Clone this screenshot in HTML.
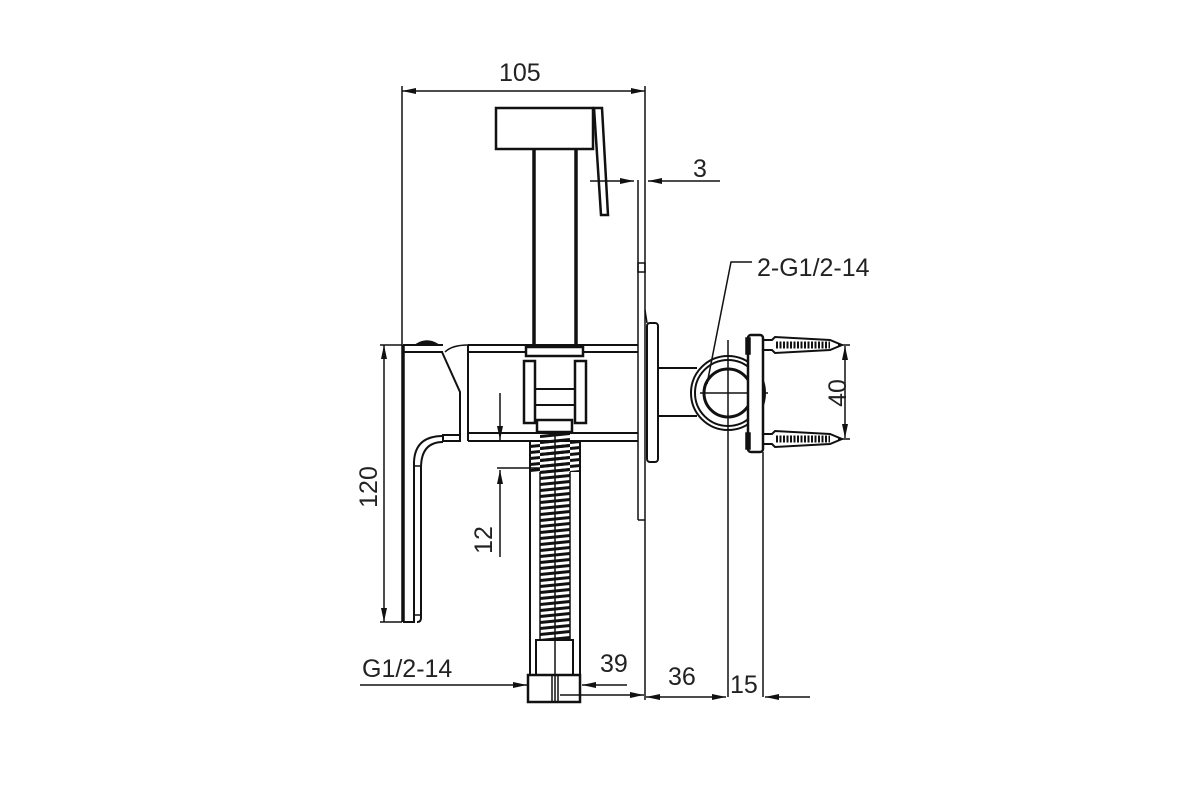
<!DOCTYPE html>
<html><head><meta charset="utf-8"><style>
html,body{margin:0;padding:0;background:#fff;}
svg{display:block;}
text{font-family:"Liberation Sans",Arial,sans-serif;font-size:25px;fill:#222;}
</style></head><body>
<svg width="1200" height="800" viewBox="0 0 1200 800" xmlns="http://www.w3.org/2000/svg">
<defs>
<marker id="a" viewBox="0 0 14 6" refX="14" refY="3" markerWidth="14" markerHeight="6" markerUnits="userSpaceOnUse" orient="auto-start-reverse"><path d="M0,0 L14,3 L0,6 Z" fill="#111"/></marker>
<pattern id="sp" width="30" height="6" patternUnits="userSpaceOnUse"><path d="M0,4.5 L30,1.5" stroke="#111" stroke-width="3"/></pattern>
</defs>
<g fill="none" stroke="#111" stroke-width="1.5">
<line x1="402" y1="91" x2="645" y2="91" marker-start="url(#a)" marker-end="url(#a)"/>
<line x1="402" y1="86" x2="402" y2="345"/>
<line x1="645" y1="86" x2="645" y2="700"/>
<rect x="496" y="108" width="97" height="41" stroke-width="2.5"/>
<path d="M594,108 L602,108 L608,215 L601,215 Z" stroke-width="2.5"/>
<line x1="534" y1="149" x2="534" y2="345" stroke-width="3.5"/>
<line x1="576" y1="149" x2="576" y2="345" stroke-width="3.5"/>
<line x1="590" y1="181" x2="634" y2="181" marker-end="url(#a)"/>
<line x1="720" y1="181" x2="648" y2="181" marker-end="url(#a)"/>
<line x1="638" y1="180" x2="638" y2="520"/>
<rect x="638" y="263" width="7" height="9"/>
<line x1="638" y1="520" x2="645" y2="520"/>
<rect x="647" y="323" width="11" height="139" rx="3" stroke-width="2"/>
<line x1="645" y1="310" x2="647" y2="323"/>
<line x1="468" y1="345" x2="638" y2="345" stroke-width="2"/>
<line x1="468" y1="352" x2="638" y2="352" stroke-width="2"/>
<line x1="468" y1="433" x2="638" y2="433" stroke-width="2"/>
<line x1="468" y1="441" x2="638" y2="441" stroke-width="2"/>
<line x1="468" y1="345" x2="468" y2="441" stroke-width="2"/>
<rect x="526" y="347" width="57" height="9" stroke-width="2.5" fill="#fff"/>
<rect x="524" y="361" width="11" height="62" stroke-width="2.5"/>
<rect x="575" y="361" width="11" height="62" stroke-width="2.5"/>
<line x1="535" y1="389" x2="575" y2="389" stroke-width="2"/>
<line x1="535" y1="405" x2="575" y2="405" stroke-width="2"/>
<rect x="537" y="420" width="35" height="12" stroke-width="2.5"/>
<line x1="403" y1="345" x2="403" y2="622" stroke-width="3.5"/>
<line x1="403" y1="345" x2="443" y2="345" stroke-width="2"/>
<line x1="403" y1="352" x2="443" y2="352" stroke-width="2"/>
<path d="M417,344 Q427,338 437,344 Z" fill="#111"/>
<path d="M442,352 L460,392 L460,441 L443,441 L443,435 L460,435" stroke-width="2"/>
<path d="M445,352 Q452,345 468,345"/>
<path d="M443,436 Q415,436 414,462 L414,622 L403,622" stroke-width="2"/>
<path d="M443,442 Q421,442 421,468 L421,618 Q421,622 417,622" stroke-width="2"/>
<line x1="414" y1="466" x2="421" y2="466"/>
<line x1="414" y1="615" x2="421" y2="615"/>
<line x1="384" y1="345" x2="384" y2="622" marker-start="url(#a)" marker-end="url(#a)"/>
<line x1="380" y1="345" x2="402" y2="345"/>
<line x1="380" y1="622" x2="402" y2="622"/>
<rect x="530" y="442" width="50" height="30" fill="url(#sp)" stroke="none"/>
<rect x="540" y="432" width="30" height="208" fill="url(#sp)" stroke="none"/>
<line x1="555" y1="432" x2="555" y2="702"/>
<line x1="530" y1="442" x2="530" y2="675" stroke-width="2"/>
<line x1="580" y1="442" x2="580" y2="675" stroke-width="2"/>
<line x1="540" y1="472" x2="540" y2="640"/>
<line x1="570" y1="472" x2="570" y2="640"/>
<rect x="536" y="640" width="37" height="35" stroke-width="2"/>
<rect x="528" y="675" width="52" height="27" stroke-width="2.5"/>
<line x1="552" y1="675" x2="552" y2="702"/>
<line x1="558" y1="675" x2="558" y2="702"/>
<line x1="500" y1="393" x2="500" y2="440" marker-end="url(#a)"/>
<line x1="500" y1="557" x2="500" y2="470" marker-end="url(#a)"/>
<line x1="497" y1="468" x2="540" y2="468"/>
<line x1="360" y1="685" x2="527" y2="685" marker-end="url(#a)"/>
<line x1="627" y1="685" x2="582" y2="685" marker-end="url(#a)"/>
<line x1="560" y1="695" x2="644" y2="695" marker-end="url(#a)"/>
<line x1="646" y1="697" x2="726" y2="697" marker-start="url(#a)" marker-end="url(#a)"/>
<line x1="810" y1="697" x2="765" y2="697" marker-end="url(#a)"/>
<line x1="728" y1="340" x2="728" y2="697"/>
<line x1="763" y1="452" x2="763" y2="697"/>
<line x1="700" y1="393" x2="768" y2="393"/>
<line x1="658" y1="368" x2="697" y2="368" stroke-width="2"/>
<line x1="658" y1="416" x2="697" y2="416" stroke-width="2"/>
<circle cx="728" cy="393" r="37" stroke-width="2" fill="none"/>
<circle cx="728" cy="393" r="33" stroke-width="2"/>
<circle cx="728" cy="393" r="24" stroke-width="3"/>
<rect x="748" y="335" width="15" height="117" rx="3" stroke-width="2.5" fill="#fff"/>
<rect x="746" y="338" width="4" height="16" fill="#111"/>
<rect x="746" y="433" width="4" height="16" fill="#111"/>
<g stroke-width="2">
<path d="M763,340 L772,340 L775,337 L830,340 L842,345 L830,350 L775,353 L772,350 L763,350 Z"/>
<path d="M763,434 L772,434 L775,431 L830,434 L842,439 L830,444 L775,447 L772,444 L763,444 Z"/>
</g>
<line x1="776" y1="345" x2="830" y2="345" stroke-width="7" stroke-dasharray="2 1.5"/>
<line x1="776" y1="439" x2="830" y2="439" stroke-width="7" stroke-dasharray="2 1.5"/>
<line x1="845" y1="346" x2="845" y2="438" marker-start="url(#a)" marker-end="url(#a)"/>
<line x1="838" y1="345" x2="850" y2="345"/>
<line x1="838" y1="439" x2="850" y2="439"/>
<path d="M707,384 L731,262 L752,262"/>
</g>
<text x="499" y="81">105</text>
<text x="693" y="177">3</text>
<text x="757" y="276">2-G1/2-14</text>
<text x="362" y="677">G1/2-14</text>
<text x="600" y="672">39</text>
<text x="668" y="685">36</text>
<text x="730" y="693">15</text>
<text transform="translate(846,393) rotate(-90)" text-anchor="middle">40</text>
<text transform="translate(377,487) rotate(-90)" text-anchor="middle">120</text>
<text transform="translate(492,540) rotate(-90)" text-anchor="middle">12</text>
</svg>
</body></html>
